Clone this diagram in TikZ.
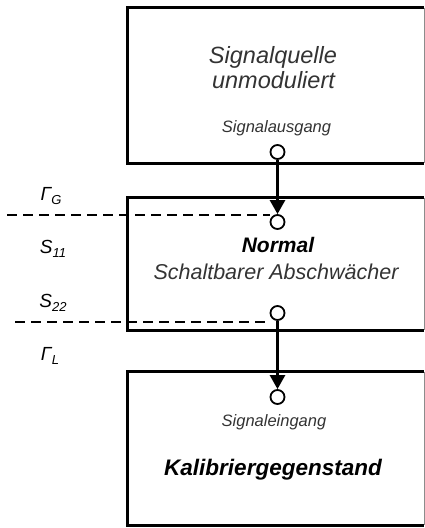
\documentclass[tikz,border=0pt]{standalone}
\usepackage{fontspec}
\setmainfont{Liberation Sans}
\usetikzlibrary{arrows.meta}

\newcommand{\idx}[1]{\raisebox{-4pt}{\fontsize{13}{14}\selectfont #1}}

\begin{document}
\begin{tikzpicture}[x=1pt,y=-1pt,
    block/.style={rectangle, minimum width=296pt, inner sep=0pt},
    frame/.style={line width=3pt},
    port/.style={circle, draw, line width=1.8pt, fill=white, minimum size=14pt, inner sep=0pt},
    sig/.style={-{Triangle[length=14pt,width=15pt]}, line width=2.6pt},
    refl/.style={dash pattern=on 10pt off 6pt, line width=1.5pt},
    txt/.style={inner sep=0pt, font=\itshape\fontsize{23.5}{26}\selectfont, text=black!80},
    bold/.style={inner sep=0pt, font=\bfseries\itshape\fontsize{22.5}{26}\selectfont},
    small/.style={inner sep=0pt, font=\itshape\fontsize{16.5}{20}\selectfont, text=black!80},
    sym/.style={inner sep=0pt, font=\itshape\fontsize{19}{20}\selectfont}]

\useasboundingbox (0,0) rectangle (425,528);

% blocks
\node [block, minimum height=155pt] (quelle) at (276,85.5){};
\node [block, minimum height=132pt] (daempf) at (276,264){};
\node [block, minimum height=153pt] (dut) at (276,448.5){};
\foreach \b in {quelle,daempf,dut}{
  \draw[frame] (\b.north east) -| (\b.south west) -- (\b.south east);
  \draw[black!45, line width=0.8pt] (\b.north east) -- (\b.south east);
}

% texts
\node [txt] (q1) at (273,57){Signalquelle};
\node [txt] (q2) at (273.5,80){unmoduliert};
\node [small] (aus) at (276.5,128){Signalausgang};
\node [bold, font=\bfseries\itshape\fontsize{21}{26}\selectfont] (n1) at (278,245){Normal};
\node [txt, font=\itshape\fontsize{21.5}{26}\selectfont] (n2) at (276,272){Schaltbarer Abschwächer};
\node [small] (ein) at (274,422){Signaleingang};
\node [bold] (kal) at (273,470){Kalibriergegenstand};

% ports
\node [port] (p1) at (277.5,152){};
\node [port] (p2) at (277.5,222){};
\node [port] (p3) at (277.5,313){};
\node [port] (p4) at (277.5,397){};
\draw[sig] (p1.south) -- (p2.north);
\draw[sig] (p3.south) -- (p4.north);

% reference planes
\coordinate (rg) at (7,215);
\coordinate (rl) at (15,322);
\draw[refl] (rg) -- (rg -| p2.west);
\draw[refl] (rl) -- (rl -| p3.west);
\node [sym] (gG) at (51,196){Γ\idx{G}};
\node [sym] (s11) at (53,249){S\idx{11}};
\node [sym] (s22) at (53,303){S\idx{22}};
\node [sym] (gL) at (50,356){Γ\idx{L}};
\end{tikzpicture}
\end{document}
